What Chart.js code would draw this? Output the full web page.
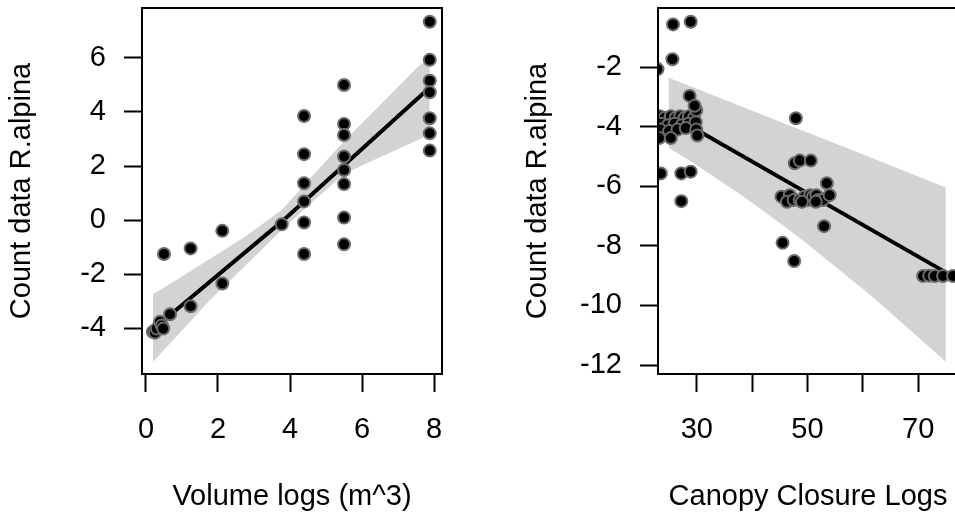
<!DOCTYPE html>
<html>
<head>
<meta charset="utf-8">
<script src="https://cdn.jsdelivr.net/npm/chart.js@4.4.1/dist/chart.umd.min.js"></script>
<style>
  html, body { margin: 0; padding: 0; background: #fff; overflow: hidden; width: 955px; height: 517px; }
  canvas { position: absolute; top: 0; }
  #volumeChart { left: 0; }
  #canopyChart { left: 516px; }
</style>
</head>
<body>
<canvas id="volumeChart" width="472" height="517"></canvas>
<canvas id="canopyChart" width="472" height="517"></canvas>
<script>
// left panel: volume of logs
var volX = [7.88, 7.88, 7.88, 7.88, 7.88, 7.88, 7.88,
            5.5, 5.5, 5.5, 5.5, 5.5, 5.5, 5.5, 5.5,
            4.39, 4.39, 4.39, 4.39, 4.39, 4.39,
            3.77, 2.12, 2.12, 1.24, 1.24, 0.50, 0.67,
            0.19, 0.25, 0.30, 0.39, 0.44, 0.48];
var volY = [7.34, 5.93, 5.16, 4.73, 3.77, 3.21, 2.57,
            5.0, 3.56, 3.15, 2.35, 1.85, 1.33, 0.09, -0.90,
            3.85, 2.44, 1.36, 0.69, -0.09, -1.26,
            -0.16, -0.40, -2.35, -1.05, -3.19, -1.26, -3.49,
            -4.14, -4.17, -4.02, -3.77, -3.90, -4.02];
var volFitX = [0.19, 3.77, 7.88];
var volFitY = [-4.05, -0.06, 4.91];
var volBandX = [0.19, 1.0, 1.78, 2.75, 3.77, 4.6, 5.53, 6.5, 7.56, 7.88];
var volUpper = [-2.75, -2.09, -1.43, -0.62, 0.37, 1.60, 2.96, 4.26, 5.68, 6.04];
var volLower = [-5.26, -4.09, -2.96, -1.70, -0.37, 0.65, 1.73, 2.32, 2.96, 3.20];
var volXTicks = [0, 2, 4, 6, 8];
var volYTicks = [-4, -2, 0, 2, 4, 6];

// right panel: canopy closure
var canX = [25.7, 28.9, 25.6, 22.9, 28.7,
            23.3, 24.2, 25.3, 26.2, 27.0, 27.8, 28.6, 29.5,
            23.6, 24.8, 26.0, 27.3, 28.5, 29.8,
            23.4, 25.0, 26.5, 28.0, 29.9,
            30.1, 29.9, 29.6, 23.2, 25.3,
            23.5, 27.2, 28.9, 27.2,
            47.9, 47.7, 48.6, 50.6, 45.5, 47.6, 53.0, 53.5,
            45.3, 46.8, 46.3, 47.5, 48.6, 49.5, 50.1, 50.5, 51.0, 51.6, 52.0, 52.8, 54.0, 49.0, 51.5,
            70.9, 72.0, 73.0, 74.5, 76.3];
var canY = [-0.57, -0.48, -1.74, -2.07, -2.97,
            -3.65, -3.70, -3.65, -3.70, -3.65, -3.70, -3.65, -3.70,
            -3.90, -3.95, -3.90, -3.95, -3.90, -3.85,
            -4.10, -4.15, -4.10, -4.05, -4.10,
            -4.30, -3.45, -3.30, -4.38, -4.38,
            -5.57, -5.57, -5.51, -6.50,
            -3.72, -5.23, -5.14, -5.14, -7.90, -8.51, -7.34, -5.90,
            -6.35, -6.30, -6.52, -6.46, -6.46, -6.35, -6.46, -6.30, -6.35, -6.30, -6.46, -6.46, -6.30, -6.52, -6.52,
            -9.01, -9.00, -9.01, -9.01, -9.01];
var canFitX = [24.9, 75.0];
var canFitY = [-3.57, -8.89];
var canBandX = [24.9, 30, 39, 45.5, 50, 62, 75];
var canUpper = [-2.36, -2.73, -3.39, -3.87, -4.20, -5.08, -6.04];
var canLower = [-4.70, -5.30, -6.42, -7.30, -7.94, -9.75, -11.89];
var canXTicks = [30, 40, 50, 60, 70];
var canXLabels = [30, 50, 70];
var canYTicks = [-12, -10, -8, -6, -4, -2];

var FONT = "'Liberation Sans', Arial, Helvetica, sans-serif";
var FONT_SIZE = 29;
Chart.defaults.font.family = FONT;
Chart.defaults.color = '#000';

function toPoints(xs, ys) {
    var pts = [];
    for (var i = 0; i < xs.length; i++) {
        pts.push({x: xs[i], y: ys[i]});
    }
    return pts;
}

// box round the plot region, like R's bty="o"
var boxPlugin = {
    id: 'plotBox',
    afterDatasetsDraw: function (chart) {
        var a = chart.chartArea;
        var ctx = chart.ctx;
        ctx.save();
        ctx.strokeStyle = '#000';
        ctx.lineWidth = 2;
        ctx.strokeRect(a.left, a.top, a.right - a.left, a.bottom - a.top);
        ctx.restore();
    }
};

function drawPanel(canvasId, p) {
    var ctx = document.getElementById(canvasId).getContext('2d');
    return new Chart(ctx, {
        type: 'scatter',
        data: {
            datasets: [
                {
                    data: toPoints(p.x, p.y),
                    order: 0,
                    pointRadius: 6,
                    pointBorderWidth: 2,
                    pointBackgroundColor: '#000',
                    pointBorderColor: '#6b6b6b',
                    clip: 0
                },
                {
                    data: toPoints(p.fitX, p.fitY),
                    order: 1,
                    showLine: true,
                    pointRadius: 0,
                    borderColor: '#000',
                    borderWidth: 4
                },
                {
                    data: toPoints(p.bandX, p.upper),
                    order: 2,
                    showLine: true,
                    pointRadius: 0,
                    borderWidth: 0,
                    borderColor: 'rgba(0,0,0,0)',
                    backgroundColor: '#d3d3d3',
                    fill: '+1'
                },
                {
                    data: toPoints(p.bandX, p.lower),
                    order: 3,
                    showLine: true,
                    pointRadius: 0,
                    borderWidth: 0,
                    borderColor: 'rgba(0,0,0,0)'
                }
            ]
        },
        options: {
            responsive: false,
            animation: false,
            events: [],
            layout: {padding: {top: 8, right: 30, left: 0, bottom: 0}},
            plugins: {legend: {display: false}, tooltip: {enabled: false}},
            scales: {
                x: {
                    type: 'linear',
                    min: p.xMin,
                    max: p.xMax,
                    afterBuildTicks: function (axis) {
                        axis.ticks = p.xTicks.map(function (v) { return {value: v}; });
                    },
                    afterFit: function (scale) {
                        scale.height = 143;
                        scale.paddingLeft = 0;
                        scale.paddingRight = 0;
                    },
                    border: {display: false},
                    grid: {drawOnChartArea: false, drawTicks: true, tickLength: 18, tickWidth: 2, tickColor: '#000'},
                    ticks: {
                        autoSkip: false,
                        maxRotation: 0,
                        padding: 21,
                        font: {size: FONT_SIZE},
                        callback: function (value) {
                            return p.xLabels.indexOf(value) >= 0 ? String(value) : '';
                        }
                    },
                    title: {display: true, text: p.xTitle, font: {size: FONT_SIZE}, padding: {top: 0, bottom: 3}}
                },
                y: {
                    type: 'linear',
                    min: p.yMin,
                    max: p.yMax,
                    afterBuildTicks: function (axis) {
                        axis.ticks = p.yTicks.map(function (v) { return {value: v}; });
                    },
                    afterFit: function (scale) {
                        scale.width = 142;
                        scale.paddingTop = 0;
                        scale.paddingBottom = 0;
                    },
                    border: {display: false},
                    grid: {drawOnChartArea: false, drawTicks: true, tickLength: 18, tickWidth: 2, tickColor: '#000'},
                    ticks: {
                        autoSkip: false,
                        padding: 18,
                        font: {size: FONT_SIZE},
                        callback: function (value) { return String(value); }
                    },
                    title: {display: true, text: 'Count data R.alpina', font: {size: FONT_SIZE}, padding: {top: 5, bottom: 0}}
                }
            }
        },
        plugins: [boxPlugin]
    });
}

drawPanel('volumeChart', {
    x: volX, y: volY,
    fitX: volFitX, fitY: volFitY,
    bandX: volBandX, upper: volUpper, lower: volLower,
    xTicks: volXTicks, xLabels: volXTicks, yTicks: volYTicks,
    xMin: -0.11, xMax: 8.22, yMin: -5.70, yMax: 7.85,
    xTitle: 'Volume logs (m^3)'
});

drawPanel('canopyChart', {
    x: canX, y: canY,
    fitX: canFitX, fitY: canFitY,
    bandX: canBandX, upper: canUpper, lower: canLower,
    xTicks: canXTicks, xLabels: canXLabels, yTicks: canYTicks,
    xMin: 22.99, xMax: 77.2, yMin: -12.30, yMax: -0.02,
    xTitle: 'Canopy Closure Logs'
});
</script>
</body>
</html>
